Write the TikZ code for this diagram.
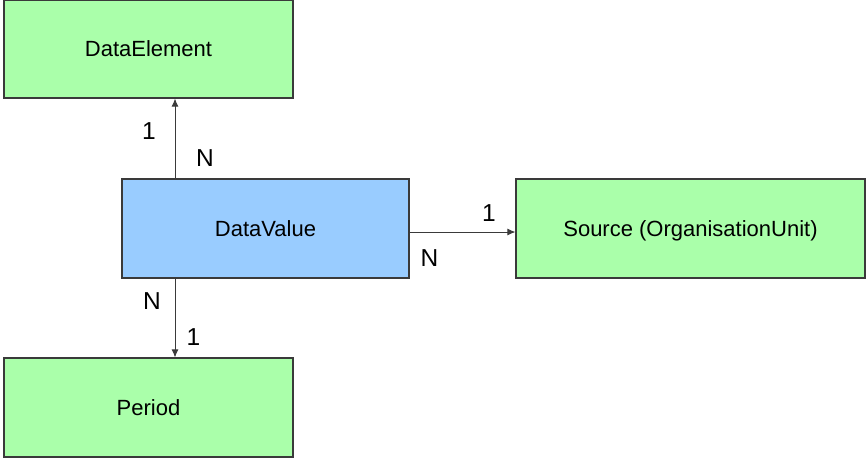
\documentclass[tikz,border=0pt]{standalone}
\usepackage{fontspec}
\setmainfont{Liberation Sans}
\usetikzlibrary{arrows.meta}
\definecolor{boxgreen}{HTML}{AAFFAA}
\definecolor{boxblue}{HTML}{99CCFF}
\definecolor{edge}{HTML}{3A3A3A}
\begin{document}
\begin{tikzpicture}[x=1pt,y=-1pt,
  entity/.style={draw=edge,line width=1.1pt,inner sep=0pt,
    font=\fontsize{22}{24}\selectfont,text height=15.75pt,text depth=0pt},
  greenbox/.style={entity,fill=boxgreen},
  bluebox/.style={entity,fill=boxblue},
  link/.style={draw=edge,line width=1pt,-{Latex[length=8pt,width=7pt]}},
  card/.style={inner sep=0pt,font=\fontsize{24.5}{26}\selectfont,text height=17.5pt,text depth=0pt}]
\useasboundingbox (0,0) rectangle (866,459);
\node[greenbox,minimum width=289pt,minimum height=98pt] (DE) at (148.5,49) {DataElement};
\node[bluebox,minimum width=287pt,minimum height=99pt] (DV) at (265.5,228.5) {DataValue};
\node[greenbox,minimum width=349pt,minimum height=99pt] (SRC) at (690.5,228.5) {Source (OrganisationUnit)};
\node[greenbox,minimum width=289pt,minimum height=99pt] (PER) at (148.5,407.5) {Period};
\coordinate (vx) at (175,0);
\coordinate (hy) at (0,232);
\draw[link] (vx |- DV.north) -- (vx |- DE.south);
\draw[link] (hy -| DV.east) -- (hy -| SRC.west);
\draw[link] (vx |- DV.south) -- (vx |- PER.north);
\node[card] (c1) at (149,131) {1};
\node[card] (n1) at (205,157.5) {N};
\node[card] (c2) at (489,212.5) {1};
\node[card] (n2) at (429.5,258) {N};
\node[card] (n3) at (152,301) {N};
\node[card] (c3) at (193.5,337) {1};
\end{tikzpicture}
\end{document}
